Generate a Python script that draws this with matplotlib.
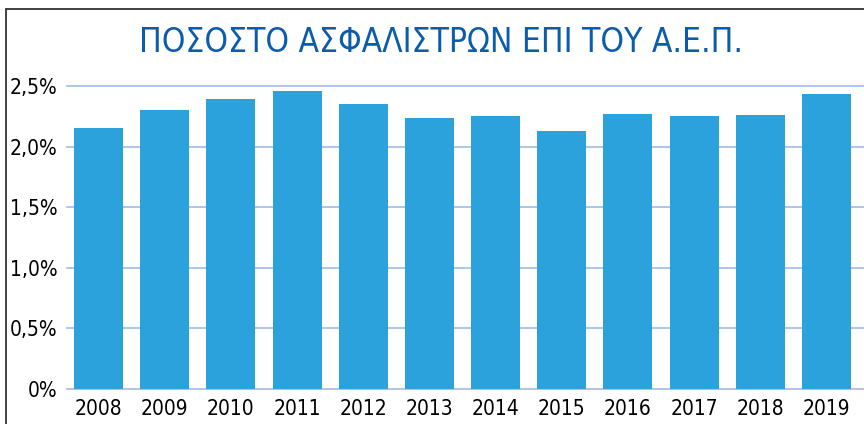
import numpy as np
import matplotlib.pyplot as plt
from matplotlib.patches import Rectangle

years = ['2008', '2009', '2010', '2011', '2012', '2013',
         '2014', '2015', '2016', '2017', '2018', '2019']
values = [2.15, 2.30, 2.39, 2.46, 2.35, 2.24,
          2.25, 2.13, 2.27, 2.25, 2.26, 2.43]
yticks = [0, 0.5, 1.0, 1.5, 2.0, 2.5]
ylabels = ['0%', '0,5%', '1,0%', '1,5%', '2,0%', '2,5%']
title = 'ΠΟΣΟΣΤΟ ΑΣΦΑΛΙΣΤΡΩΝ ΕΠΙ ΤΟΥ Α.Ε.Π.'

plt.rcParams['font.family'] = ['DejaVu Sans']
plt.rcParams['font.stretch'] = 'condensed'

fig = plt.figure(figsize=(8.64, 4.24), dpi=100)
ax = fig.add_axes([67/864, 1-389/424, 1-67/864, (389-86)/424])

x = np.arange(len(years))
ax.bar(x, values, width=0.74, color='#2ba2dc', zorder=2)

for t in yticks:
    ax.axhline(t, color='#9dbde8' if t > 0 else '#aab8dc', lw=1.2, zorder=1, clip_on=False)

ax.set_xlim(-0.476, 11.566)
ax.set_ylim(0, 2.5)
ax.set_yticks(yticks)
ax.set_yticklabels(ylabels, fontsize=15)
ax.set_xticks(x)
ax.set_xticklabels(years, fontsize=15)
ax.tick_params(length=0, pad=7)
ax.tick_params(axis='y', pad=7)
for s in ax.spines.values():
    s.set_visible(False)

fig.text(0.51, 1-42/424, title, ha='center', va='center', fontsize=24,
         color='#0b5cab')

# frame of the panel
fig.patches.append(Rectangle((6/864, -0.1), 1.2, 1-9/424+0.1, transform=fig.transFigure,
                             fill=False, edgecolor='#333333', lw=1.3))

plt.savefig('out.png')
